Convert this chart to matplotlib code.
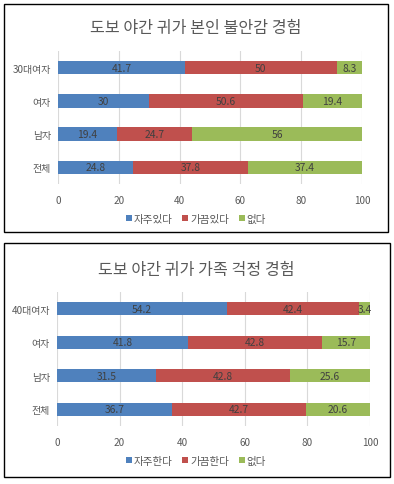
import matplotlib
matplotlib.use("Agg")
import matplotlib.pyplot as plt
from matplotlib.patches import Rectangle, Patch

plt.rcParams['font.family'] = ['Noto Sans CJK KR', 'DejaVu Sans']

# ---- Data ----
title1 = "도보 야간 귀가 본인 불안감 경험"
cats1 = ["전체", "남자", "여자", "30대여자"]
series1_names = ["자주있다", "가끔있다", "없다"]
often1 = [24.8, 19.4, 30, 41.7]
sometimes1 = [37.8, 24.7, 50.6, 50]
never1 = [37.4, 56, 19.4, 8.3]

title2 = "도보 야간 귀가 가족 걱정 경험"
cats2 = ["전체", "남자", "여자", "40대여자"]
series2_names = ["자주한다", "가끔한다", "없다"]
often2 = [36.7, 31.5, 41.8, 54.2]
sometimes2 = [42.7, 42.8, 42.8, 42.4]
never2 = [20.6, 25.6, 15.7, 3.4]

xticks = [0, 20, 40, 60, 80, 100]

colors = ["#4F81BD", "#C0504D", "#9BBB59"]
TXT = "#595959"
LBL = "#404040"

W, H = 394, 485
fig = plt.figure(figsize=(W / 100, H / 100), dpi=100)
fig.patch.set_facecolor("white")


def px_axes(l, t, r, b):
    return fig.add_axes([l / W, 1 - b / H, (r - l) / W, (b - t) / H])


def border(l, t, r, b):
    fig.patches.append(Rectangle((l / W, 1 - b / H), (r - l) / W, (b - t) / H,
                                 transform=fig.transFigure, fill=False,
                                 edgecolor="black", linewidth=1.0, zorder=0))


def panel(ax, cats, vals, names, title, title_y, legend_y, cx):
    y = list(range(len(cats)))
    left = [0] * len(cats)
    for v, c in zip(vals, colors):
        bars = ax.barh(y, v, left=left, height=0.4, color=c, zorder=2)
        labels = [("%g" % x) for x in v]
        ax.bar_label(bars, labels=labels, label_type="center",
                     fontsize=7.4, color=LBL)
        left = [a + b for a, b in zip(left, v)]
    ax.set_xlim(0, 100)
    ax.set_ylim(-0.5, len(cats) - 0.5)
    ax.set_yticks(y)
    ax.set_yticklabels(cats, fontsize=7.2, color=TXT)
    ax.set_xticks(xticks)
    ax.set_xticklabels([str(t) for t in xticks], fontsize=7.2, color=TXT)
    ax.tick_params(length=0, pad=8)
    ax.tick_params(axis="y", pad=5)
    for s in ax.spines.values():
        s.set_visible(False)
    ax.grid(axis="x", color="#D9D9D9", linewidth=0.8, zorder=0)
    ax.set_axisbelow(True)
    fig.text(cx / W, 1 - title_y / H, title, ha="center", va="center",
             fontsize=11.6, color=TXT)
    handles = [Patch(facecolor=c, label=n) for c, n in zip(colors, names)]
    fig.legend(handles=handles, loc="center", bbox_to_anchor=(cx / W, 1 - legend_y / H),
               ncol=3, frameon=False, fontsize=7.6, handlelength=0.55, handleheight=0.55,
               handletextpad=0.2, columnspacing=0.9, labelcolor=TXT)


border(4, 5, 388, 233)
border(4, 244, 390, 478)

ax1 = px_axes(58, 52, 362, 185)
panel(ax1, cats1, [often1, sometimes1, never1], series1_names, title1, 28, 220, 196)

ax2 = px_axes(57, 293, 370, 427)
panel(ax2, cats2, [often2, sometimes2, never2], series2_names, title2, 270, 462, 196)

fig.savefig("out.png", dpi=100)
